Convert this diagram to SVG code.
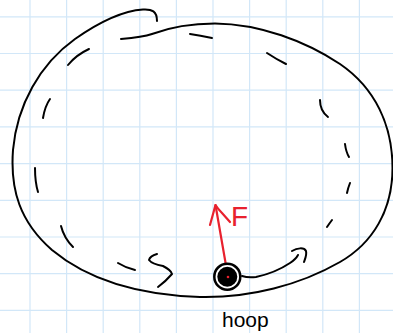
<svg xmlns="http://www.w3.org/2000/svg" width="393" height="333" viewBox="0 0 393 333">
<defs>
<style>
.grid line{stroke:#d2e7f8;stroke-width:1.2}
.ink{fill:none;stroke:#000;stroke-width:2;stroke-linecap:round;stroke-linejoin:round}
.red{fill:none;stroke:#e8212e;stroke-width:2.2;stroke-linecap:round;stroke-linejoin:round}
.lbl{font-family:"Liberation Sans",Arial,sans-serif}
</style>
</defs>
<rect width="393" height="333" fill="#fff"/>
<g class="grid">
<line x1="30" y1="0" x2="30" y2="333"/><line x1="66.6" y1="0" x2="66.6" y2="333"/><line x1="103.2" y1="0" x2="103.2" y2="333"/><line x1="139.8" y1="0" x2="139.8" y2="333"/><line x1="176.4" y1="0" x2="176.4" y2="333"/><line x1="213" y1="0" x2="213" y2="333"/><line x1="249.6" y1="0" x2="249.6" y2="333"/><line x1="286.2" y1="0" x2="286.2" y2="333"/><line x1="322.8" y1="0" x2="322.8" y2="333"/><line x1="359.4" y1="0" x2="359.4" y2="333"/>
<line x1="0" y1="16.8" x2="393" y2="16.8"/><line x1="0" y1="53.5" x2="393" y2="53.5"/><line x1="0" y1="90.2" x2="393" y2="90.2"/><line x1="0" y1="126.9" x2="393" y2="126.9"/><line x1="0" y1="163.6" x2="393" y2="163.6"/><line x1="0" y1="200.3" x2="393" y2="200.3"/><line x1="0" y1="237" x2="393" y2="237"/><line x1="0" y1="273.7" x2="393" y2="273.7"/><line x1="0" y1="310.4" x2="393" y2="310.4"/>
</g>
<g id="loop">
<path class="ink" d="M157,21 C157,11 152,9 143,9.5 C120,11 95,25 75,39 C40,64 17,105 13,150 C10,190 20,222 52,250 C88,280 140,295 200,297 C250,298 300,285 340,262 C373,243 392.5,210 392.5,168 C392.5,125 375,88 340,64 C305,41 260,24 215,23.5 C190,23.5 168,28 152,34 C145,36.5 133,38 121,39"/>
</g>
<g id="connectors">
<path class="ink" d="M190,34 Q200,35.5 212,38"/>
<path class="ink" d="M267,53 Q276,59 286,64"/>
<path class="ink" d="M320,100 Q320,111 328,117"/>
<path class="ink" d="M345,144 Q346,152 349,157"/>
<path class="ink" d="M68,65 Q76,55 89,49"/>
<path class="ink" d="M50,99 Q45,106 43,118"/>
<path class="ink" d="M35,168 Q35,182 38,192"/>
<path class="ink" d="M61,226 Q64,238 73,247"/>
<path class="ink" d="M118,263 Q126,268 135,270"/>
<path class="ink" d="M157,254 Q150,256 149,260 Q152,264 163,266 Q171,270 172,274 Q166,281 158,287"/>
<path class="ink" d="M350,183 Q348,188 347,193"/>
<path class="ink" d="M332,220 Q329,224 327,227"/>
<path class="ink" d="M242,276 Q248,278 256,277 Q275,273 290,263 Q296,259 298,255"/>
<path class="ink" d="M292,251 C297,248 304,247 306,251 C307,255 305,259 304,262"/>
<path class="red" d="M228,277 L215.5,205"/>
<path class="red" d="M210,225 L215.5,205 Q218,209 222,213 L230,222"/>
</g>
<g id="hoop">
<circle cx="227.3" cy="276.7" r="13" fill="#fff" stroke="#000" stroke-width="2.5"/>
<circle cx="227.3" cy="276.7" r="10" fill="#000"/>
<circle cx="228" cy="277" r="1.3" fill="#e8212e"/>
<text class="lbl" x="222" y="327" font-size="21" fill="#000">hoop</text>
</g>
<g id="force">
<text class="lbl" x="231" y="226" font-size="28" fill="#e8212e">F</text>
</g>
</svg>
